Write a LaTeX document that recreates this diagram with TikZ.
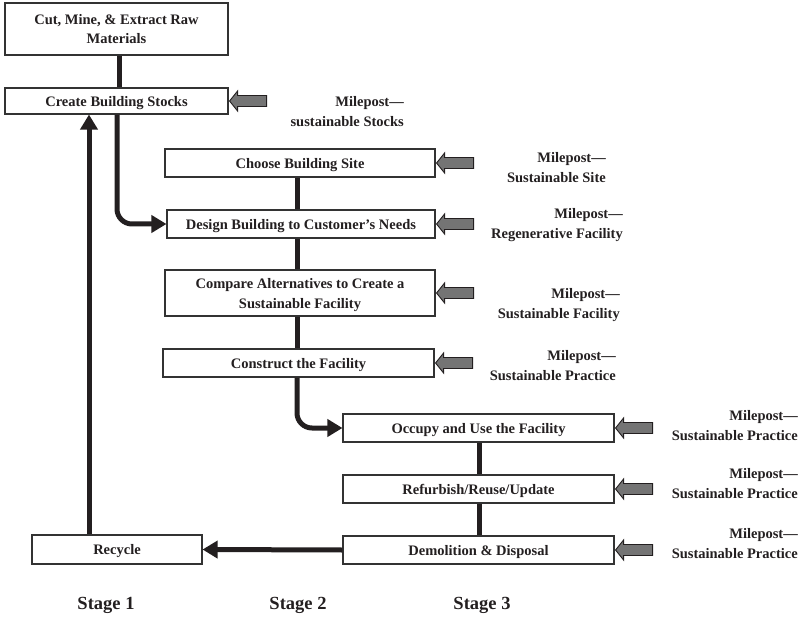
\documentclass[tikz,border=0pt]{standalone}
\usepackage{fontspec}
\setmainfont{Liberation Serif}
\usetikzlibrary{arrows.meta}

\definecolor{ink}{HTML}{231F20}
\definecolor{frame}{HTML}{333333}
\definecolor{postfill}{HTML}{747474}

\tikzset{
  box/.style={draw=frame, line width=1.1pt, fill=white, text=ink, align=center,
    inner sep=0pt, text depth=0pt, font=\fontsize{14.5}{19}\selectfont\bfseries},
  conn/.style={draw=ink, line width=5pt},
  connarrow/.style={conn, -{Triangle[length=15pt,width=17pt]}},
  milepost/.style={draw=ink, line width=0.9pt, fill=postfill, line join=miter},
  postlabel/.style={anchor=east, align=right, inner sep=0pt, text=ink,
    font=\fontsize{14.5}{20}\selectfont\bfseries},
  stagelabel/.style={anchor=base, inner sep=0pt, text=ink,
    font=\fontsize{18.5}{22}\selectfont\bfseries}
}

% block arrow pointing left at the right side of a box
\newcommand\milearrow[1]{%
  \draw[milepost] ([xshift=1pt]#1.east) -- ++(8,-10) -- ++(0,4.5) -- ++(29,0)
    -- ++(0,11) -- ++(-29,0) -- ++(0,4.5) -- cycle;}

\begin{document}
\begin{tikzpicture}[x=1pt, y=-1pt]
\useasboundingbox (0,0) rectangle (800,620);

% process boxes
\node[box, minimum width=223pt, minimum height=52pt] (cut) at (116.5,29)
  {Cut, Mine, \& Extract Raw\\Materials};
\node[box, minimum width=223pt, minimum height=26pt] (stocks) at (116.5,101)
  {Create Building Stocks};
\node[box, minimum width=270pt, minimum height=28pt] (site) at (300,163)
  {Choose Building Site};
\node[box, minimum width=268pt, minimum height=28pt] (design) at (301,224)
  {Design Building to Customer’s Needs};
\node[box, minimum width=270pt, minimum height=46pt, font=\fontsize{14.5}{20}\selectfont\bfseries] (compare) at (300,293)
  {Compare Alternatives to Create a\\Sustainable Facility};
\node[box, minimum width=271pt, minimum height=28pt] (construct) at (298.5,363)
  {Construct the Facility};
\node[box, minimum width=271pt, minimum height=28pt] (occupy) at (478.5,428)
  {Occupy and Use the Facility};
\node[box, minimum width=271pt, minimum height=28pt] (refurb) at (478.5,489)
  {Refurbish/Reuse/Update};
\node[box, minimum width=271pt, minimum height=28pt] (demol) at (478.5,550)
  {Demolition \& Disposal};
\node[box, minimum width=170pt, minimum height=29pt] (recycle) at (117,549.5)
  {Recycle};

% spine coordinates for the vertical links
\coordinate (spineB) at (297,0);
\coordinate (spineC) at (479,0);

% connectors
\draw[conn] ([xshift=2.5pt]cut.south) -- ([xshift=2.5pt]stocks.north);
\draw[connarrow, rounded corners=15pt] ([xshift=0.5pt]stocks.south) |- (design.west);
\draw[conn] (site.south -| spineB) -- (design.north -| spineB);
\draw[conn] (design.south -| spineB) -- (compare.north -| spineB);
\draw[conn] (compare.south -| spineB) -- (construct.north -| spineB);
\draw[connarrow, rounded corners=15pt] (construct.south -| spineB) |- (occupy.west);
\draw[conn] (occupy.south -| spineC) -- (refurb.north -| spineC);
\draw[conn] (refurb.south -| spineC) -- (demol.north -| spineC);
\draw[connarrow] (demol.west) -- (recycle.east);
\draw[connarrow] ([xshift=-28pt]recycle.north) -- ([xshift=-28pt]recycle.north |- stocks.south);

% milepost arrows
\milearrow{stocks}
\milearrow{site}
\milearrow{design}
\milearrow{compare}
\milearrow{construct}
\milearrow{occupy}
\milearrow{refurb}
\milearrow{demol}

% milepost labels
\node[postlabel] (lstocks) at (404,112) {Milepost—\\sustainable Stocks};
\node[postlabel] (lsite) at (606,167.5) {Milepost—\\Sustainable Site};
\node[postlabel] (ldesign) at (623,225) {Milepost—\\Regenerative Facility};
\node[postlabel] (lcompare) at (620,305) {Milepost—\\Sustainable Facility};
\node[postlabel] (lconstruct) at (616,365.5) {Milepost—\\Sustainable Practice};
\node[postlabel] (loccupy) at (798,425.5) {Milepost—\\Sustainable Practice};
\node[postlabel] (lrefurb) at (798,483.5) {Milepost—\\Sustainable Practice};
\node[postlabel] (ldemol) at (798,543.5) {Milepost—\\Sustainable Practice};

% stage captions
\node[stagelabel] (stage1) at (106,609) {Stage 1};
\node[stagelabel] (stage2) at (298,609) {Stage 2};
\node[stagelabel] (stage3) at (482,609) {Stage 3};
\end{tikzpicture}
\end{document}
